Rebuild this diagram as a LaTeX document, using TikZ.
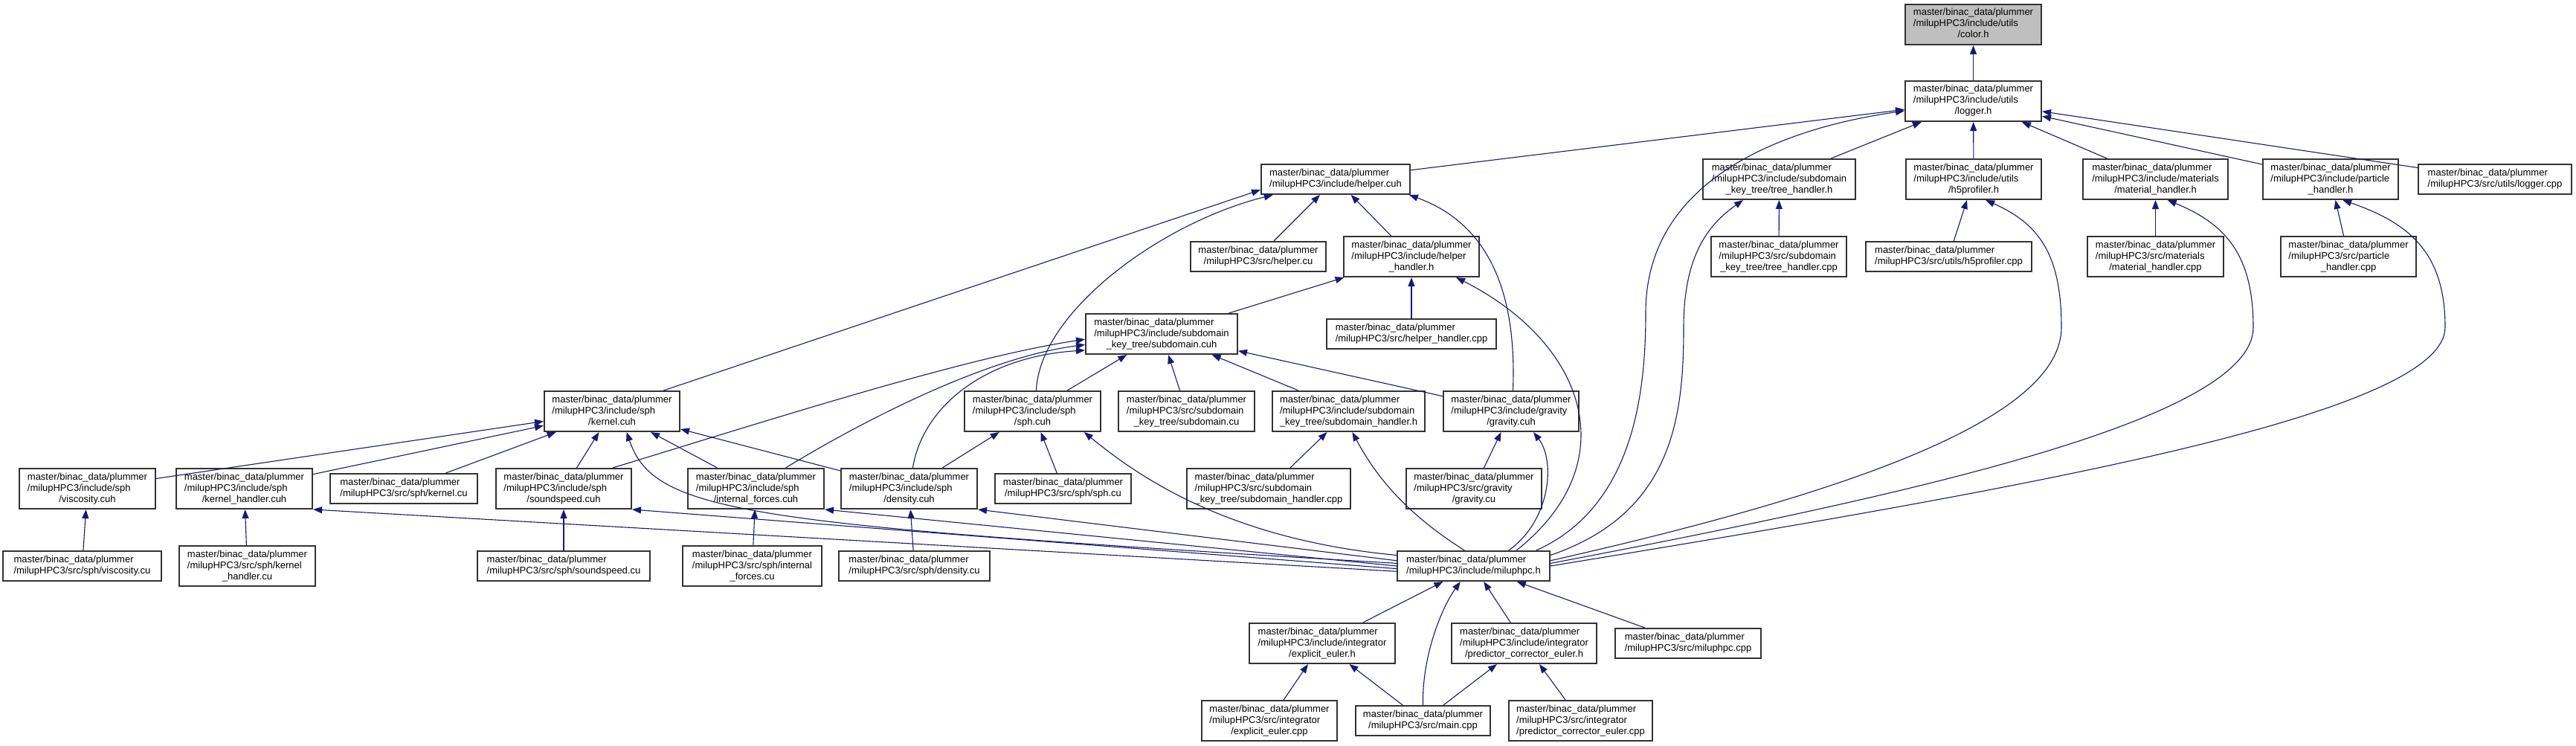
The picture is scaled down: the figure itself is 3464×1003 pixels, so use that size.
\documentclass[tikz,border=0pt]{standalone}
\usepackage{fontspec}
\setmainfont{Liberation Sans}
\usetikzlibrary{arrows.meta}
\definecolor{edgeblue}{HTML}{191970}
\definecolor{boxgray}{HTML}{BFBFBF}
\definecolor{boxline}{HTML}{333333}
\newcommand{\plum}{master/binac\_data/plummer}
\newcommand{\fpath}[2]{\begin{tabular}{@{}l@{}}#1\\\multicolumn{1}{@{}c@{}}{#2}\end{tabular}}

\begin{document}
\begin{tikzpicture}[x=1pt,y=-1pt,
  every node/.style={font=\fontsize{13}{15}\selectfont},
  file/.style={draw=boxline,line width=2pt,fill=white,inner sep=0pt,
    minimum width=182pt,minimum height=54pt},
  two/.style={minimum height=40pt},
  odd/.style={minimum width=183pt},
  dep/.style={-{Triangle[length=12pt,width=9pt]},draw=edgeblue,line width=1.1pt}
]
\useasboundingbox (0,0) rectangle (3464,1003);

\node[file,odd,fill=boxgray] (color) at (2653.5,33) {\fpath{\plum\\/milupHPC3/include/utils}{/color.h}};
\node[file,odd] (logger) at (2653.5,136) {\fpath{\plum\\/milupHPC3/include/utils}{/logger.h}};

\node[file,two,minimum width=200pt] (helpercuh) at (1796,241) {\fpath{\plum}{/milupHPC3/include/helper.cuh}};
\node[file,minimum width=205pt] (treeh) at (2392.5,241) {\fpath{\plum\\/milupHPC3/include/subdomain}{\_key\_tree/tree\_handler.h}};
\node[file] (h5h) at (2654,241) {\fpath{\plum\\/milupHPC3/include/utils}{/h5profiler.h}};
\node[file,minimum width=195pt] (math) at (2898.5,241) {\fpath{\plum\\/milupHPC3/include/materials}{/material\_handler.h}};
\node[file] (parth) at (3134,241) {\fpath{\plum\\/milupHPC3/include/particle}{\_handler.h}};
\node[file,two,minimum width=206pt] (loggercpp) at (3355,241) {\fpath{\plum}{/milupHPC3/src/utils/logger.cpp}};

\node[file,two] (helpercu) at (1692,345) {\fpath{\plum}{/milupHPC3/src/helper.cu}};
\node[file] (helperhh) at (1898,345) {\fpath{\plum\\/milupHPC3/include/helper}{\_handler.h}};
\node[file] (treecpp) at (2392,345) {\fpath{\plum\\/milupHPC3/src/subdomain}{\_key\_tree/tree\_handler.cpp}};
\node[file,two,minimum width=223pt] (h5cpp) at (2620.5,345) {\fpath{\plum}{/milupHPC3/src/utils/h5profiler.cpp}};
\node[file,odd] (matcpp) at (2898.5,345) {\fpath{\plum\\/milupHPC3/src/materials}{/material\_handler.cpp}};
\node[file] (partcpp) at (3158,345) {\fpath{\plum\\/milupHPC3/src/particle}{\_handler.cpp}};

\node[file,minimum width=204pt] (subdomcuh) at (1562,449) {\fpath{\plum\\/milupHPC3/include/subdomain}{\_key\_tree/subdomain.cuh}};
\node[file,two,minimum width=228pt] (helperhcpp) at (1898,449) {\fpath{\plum}{/milupHPC3/src/helper\_handler.cpp}};

\node[file] (kernelcuh) at (823,553) {\fpath{\plum\\/milupHPC3/include/sph}{/kernel.cuh}};
\node[file,odd] (sphcuh) at (1388.5,553) {\fpath{\plum\\/milupHPC3/include/sph}{/sph.cuh}};
\node[file,odd] (subdomcu) at (1595.5,553) {\fpath{\plum\\/milupHPC3/src/subdomain}{\_key\_tree/subdomain.cu}};
\node[file,minimum width=205pt] (subdomhh) at (1813.5,553) {\fpath{\plum\\/milupHPC3/include/subdomain}{\_key\_tree/subdomain\_handler.h}};
\node[file] (gravcuh) at (2032,553) {\fpath{\plum\\/milupHPC3/include/gravity}{/gravity.cuh}};

\node[file,odd] (visccuh) at (117.5,657) {\fpath{\plum\\/milupHPC3/include/sph}{/viscosity.cuh}};
\node[file,odd] (kernhcuh) at (328.5,657) {\fpath{\plum\\/milupHPC3/include/sph}{/kernel\_handler.cuh}};
\node[file,two,minimum width=198pt] (kernelcu) at (543,657) {\fpath{\plum}{/milupHPC3/src/sph/kernel.cu}};
\node[file] (soundcuh) at (758,657) {\fpath{\plum\\/milupHPC3/include/sph}{/soundspeed.cuh}};
\node[file,odd] (intfcuh) at (1016.5,657) {\fpath{\plum\\/milupHPC3/include/sph}{/internal\_forces.cuh}};
\node[file,odd] (denscuh) at (1222.5,657) {\fpath{\plum\\/milupHPC3/include/sph}{/density.cuh}};
\node[file,two,odd] (sphcu) at (1429.5,657) {\fpath{\plum}{/milupHPC3/src/sph/sph.cu}};
\node[file,minimum width=220pt] (subdomhcpp) at (1706,657) {\fpath{\plum\\/milupHPC3/src/subdomain}{\_key\_tree/subdomain\_handler.cpp}};
\node[file] (gravcu) at (1982,657) {\fpath{\plum\\/milupHPC3/src/gravity}{/gravity.cu}};

\node[file,two,minimum width=213pt] (visccu) at (110.5,761) {\fpath{\plum}{/milupHPC3/src/sph/viscosity.cu}};
\node[file,odd] (kernhcu) at (332.5,761) {\fpath{\plum\\/milupHPC3/src/sph/kernel}{\_handler.cu}};
\node[file,two,minimum width=232pt] (soundcu) at (758,761) {\fpath{\plum}{/milupHPC3/src/sph/soundspeed.cu}};
\node[file,minimum width=187pt] (intfcu) at (1011.5,761) {\fpath{\plum\\/milupHPC3/src/sph/internal}{\_forces.cu}};
\node[file,two,minimum width=203pt] (denscu) at (1229.5,761) {\fpath{\plum}{/milupHPC3/src/sph/density.cu}};
\node[file,two,minimum width=205pt] (miluphpch) at (1981.5,761) {\fpath{\plum}{/milupHPC3/include/miluphpc.h}};

\node[file,minimum width=196pt] (expeulh) at (1778,865) {\fpath{\plum\\/milupHPC3/include/integrator}{/explicit\_euler.h}};
\node[file,minimum width=195pt] (pceulh) at (2049.5,865) {\fpath{\plum\\/milupHPC3/include/integrator}{/predictor\_corrector\_euler.h}};
\node[file,two,minimum width=196pt] (miluphpccpp) at (2270,865) {\fpath{\plum}{/milupHPC3/src/miluphpc.cpp}};

\node[file] (expeulcpp) at (1707,969) {\fpath{\plum\\/milupHPC3/src/integrator}{/explicit\_euler.cpp}};
\node[file,two,minimum width=181pt] (maincpp) at (1913.5,969) {\fpath{\plum}{/milupHPC3/src/main.cpp}};
\node[file,minimum width=193pt] (pceulcpp) at (2125.5,969) {\fpath{\plum\\/milupHPC3/src/integrator}{/predictor\_corrector\_euler.cpp}};

\draw[dep] (logger) -- (color);
\draw[dep] (helpercuh) -- (logger);
\draw[dep] (treeh) -- (logger);
\draw[dep] (h5h) -- (logger);
\draw[dep] (math) -- (logger);
\draw[dep] (parth) -- (logger);
\draw[dep] (loggercpp) -- (logger);
\draw[dep] (miluphpch.14) .. controls (2200,680) and (2213,520) .. (2213,420)
  .. controls (2213,250) and (2380,175) .. (logger.-172);

\draw[dep] (helpercu) -- (helpercuh);
\draw[dep] (helperhh) -- (helpercuh);
\draw[dep] (kernelcuh.22) -- (helpercuh.-172);
\draw[dep] (sphcuh.80) .. controls (1398,420) and (1560,300) .. (helpercuh.-166);
\draw[dep] (gravcuh.85) .. controls (2040,390) and (2000,300) .. (helpercuh.-12);

\draw[dep] (treecpp) -- (treeh);
\draw[dep] (miluphpch.8) .. controls (2250,690) and (2264,560) .. (2264,440)
  .. controls (2264,340) and (2300,300) .. (treeh.-150);
\draw[dep] (h5cpp) -- (h5h);
\draw[dep] (miluphpch.4) .. controls (2500,660) and (2772,560) .. (2772,440)
  .. controls (2772,340) and (2740,300) .. (h5h.-60);
\draw[dep] (matcpp) -- (math);
\draw[dep] (miluphpch.2) .. controls (2600,660) and (3030,560) .. (3030,440)
  .. controls (3030,340) and (2990,300) .. (math.-60);
\draw[dep] (partcpp) -- (parth);
\draw[dep] (miluphpch.0) .. controls (2700,660) and (3288,560) .. (3288,440)
  .. controls (3288,340) and (3240,300) .. (parth.-60);

\draw[dep] (helperhcpp) -- (helperhh);
\draw[dep] (subdomcuh) -- (helperhh);
\draw[dep] (miluphpch.20) .. controls (2190,620) and (2130,460) .. (helperhh.-25);

\draw[dep] (sphcuh) -- (subdomcuh);
\draw[dep] (subdomcu) -- (subdomcuh);
\draw[dep] (subdomhh) -- (subdomcuh);
\draw[dep] (gravcuh) -- (subdomcuh);
\draw[dep] (soundcuh.23) .. controls (1050,560) and (1300,480) .. (subdomcuh.-176);
\draw[dep] (intfcuh.35) .. controls (1170,560) and (1330,480) .. (subdomcuh.-172);
\draw[dep] (denscuh.80) .. controls (1240,550) and (1320,480) .. (subdomcuh.-168);

\draw[dep] (visccuh) -- (kernelcuh);
\draw[dep] (kernhcuh) -- (kernelcuh);
\draw[dep] (kernelcu) -- (kernelcuh);
\draw[dep] (soundcuh) -- (kernelcuh);
\draw[dep] (intfcuh) -- (kernelcuh);
\draw[dep] (denscuh) -- (kernelcuh);
\draw[dep] (miluphpch.178) .. controls (1000,705) and (880,690) .. (kernelcuh.-55);

\draw[dep] (denscuh) -- (sphcuh);
\draw[dep] (sphcu) -- (sphcuh);
\draw[dep] (miluphpch.172) .. controls (1650,725) and (1530,640) .. (sphcuh.-22);

\draw[dep] (subdomhcpp) -- (subdomhh);
\draw[dep] (miluphpch.120) .. controls (1890,690) and (1850,640) .. (subdomhh.-80);
\draw[dep] (gravcu) -- (gravcuh);
\draw[dep] (miluphpch.24) .. controls (2085,700) and (2092,620) .. (gravcuh.-43);

\draw[dep] (visccu) -- (visccuh);
\draw[dep] (kernhcu) -- (kernhcuh);
\draw[dep] (miluphpch.184) -- (kernhcuh.south east);
\draw[dep] (soundcu) -- (soundcuh);
\draw[dep] (miluphpch.182) -- (soundcuh.south east);
\draw[dep] (intfcu) -- (intfcuh);
\draw[dep] (miluphpch.180) -- (intfcuh.south east);
\draw[dep] (denscu) -- (denscuh);
\draw[dep] (miluphpch.176) -- (denscuh.south east);

\draw[dep] (expeulh) -- (miluphpch);
\draw[dep] (pceulh) -- (miluphpch);
\draw[dep] (maincpp.north) .. controls (1912,880) and (1940,815) .. (miluphpch.-130);
\draw[dep] (miluphpccpp) -- (miluphpch);
\draw[dep] (expeulcpp) -- (expeulh);
\draw[dep] (maincpp) -- (expeulh);
\draw[dep] (maincpp) -- (pceulh);
\draw[dep] (pceulcpp) -- (pceulh);
\end{tikzpicture}
\end{document}
